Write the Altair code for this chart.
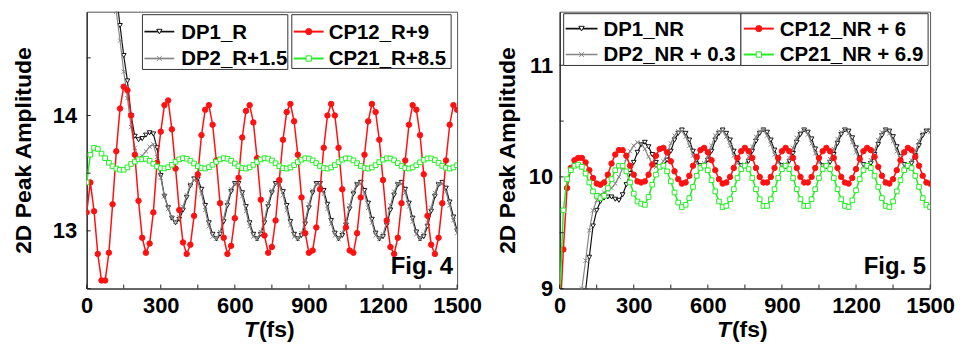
import altair as alt
import pandas as pd

T = list(range(0, 1501, 15))

# ---- Fig. 4 (left panel) ----
DP1_R = [18.0, 17.6, 17.2, 16.8, 16.4, 16.05, 15.7, 15.35, 15.05, 14.78, 14.52, 14.3, 14.0, 13.82, 13.79, 13.8, 13.83, 13.85, 13.84, 13.72,
         13.48, 13.3, 13.2, 13.11, 13.07, 13.10, 13.18, 13.29, 13.39, 13.45, 13.45, 13.36, 13.22, 13.07, 12.97, 12.93, 12.97, 13.08, 13.22, 13.34,
         13.41, 13.41, 13.33, 13.21, 13.07, 12.97, 12.93, 12.97, 13.07, 13.21, 13.33, 13.41, 13.41, 13.34, 13.22, 13.08, 12.97, 12.93, 12.96, 13.06,
         13.20, 13.33, 13.41, 13.41, 13.35, 13.23, 13.09, 12.98, 12.93, 12.96, 13.05, 13.19, 13.32, 13.40, 13.42, 13.35, 13.24, 13.10, 12.98, 12.93,
         12.95, 13.05, 13.18, 13.31, 13.40, 13.42, 13.36, 13.24, 13.11, 12.99, 12.93, 12.95, 13.04, 13.17, 13.30, 13.40, 13.42, 13.37, 13.25, 13.12,
         13.00]
DP2_R = [17.8, 17.4, 17.0, 16.6, 16.2, 15.85, 15.5, 15.15, 14.9, 14.65, 14.38, 14.15, 13.9, 13.72, 13.63, 13.65, 13.69, 13.73, 13.75, 13.64,
         13.46, 13.3, 13.19, 13.11, 13.08, 13.12, 13.21, 13.31, 13.40, 13.44, 13.42, 13.32, 13.18, 13.04, 12.95, 12.93, 12.99, 13.11, 13.25, 13.36,
         13.41, 13.40, 13.30, 13.17, 13.04, 12.95, 12.93, 12.99, 13.10, 13.24, 13.35, 13.41, 13.40, 13.31, 13.18, 13.05, 12.95, 12.93, 12.98, 13.09,
         13.23, 13.35, 13.41, 13.40, 13.32, 13.19, 13.06, 12.96, 12.93, 12.98, 13.08, 13.22, 13.34, 13.41, 13.41, 13.32, 13.20, 13.07, 12.96, 12.93,
         12.97, 13.08, 13.22, 13.34, 13.41, 13.41, 13.33, 13.21, 13.08, 12.97, 12.93, 12.97, 13.07, 13.20, 13.33, 13.41, 13.41, 13.34, 13.22, 13.09,
         12.98]
CP12_R = [13.16, 13.42, 13.17, 12.80, 12.57, 12.57, 12.81, 13.23, 13.69, 14.06, 14.25, 14.22, 14.0, 13.66, 13.26, 12.94, 12.81, 12.89, 13.16, 13.59,
          13.86, 14.09, 14.13, 13.88, 13.54, 13.18, 12.90, 12.80, 12.88, 13.13, 13.49, 13.83, 14.05, 14.09, 13.92, 13.61, 13.24, 12.94, 12.80, 12.87,
          13.11, 13.46, 13.81, 14.04, 14.09, 13.94, 13.63, 13.27, 12.96, 12.81, 12.86, 13.09, 13.44, 13.79, 14.03, 14.10, 13.95, 13.66, 13.29, 12.98,
          12.81, 12.83, 13.03, 13.36, 13.72, 14.0, 14.10, 14.0, 13.72, 13.36, 13.03, 12.83, 12.81, 12.98, 13.29, 13.66, 13.95, 14.10, 14.03, 13.79,
          13.44, 13.09, 12.86, 12.80, 12.94, 13.24, 13.61, 13.92, 14.09, 14.05, 13.83, 13.49, 13.13, 12.88, 12.80, 12.94, 13.24, 13.61, 13.92, 14.09,
          14.05]
CP21_R = [13.42, 13.66, 13.72, 13.71, 13.67, 13.63, 13.59, 13.56, 13.54, 13.53, 13.53, 13.55, 13.58, 13.60, 13.62, 13.62, 13.625, 13.607, 13.582, 13.558,
          13.543, 13.541, 13.552, 13.573, 13.599, 13.62, 13.63, 13.625, 13.608, 13.584, 13.56, 13.544, 13.541, 13.552, 13.573, 13.599, 13.62, 13.63, 13.625, 13.608,
          13.584, 13.56, 13.544, 13.54, 13.551, 13.572, 13.597, 13.619, 13.63, 13.626, 13.61, 13.586, 13.561, 13.544, 13.54, 13.55, 13.57, 13.596, 13.617, 13.629,
          13.627, 13.611, 13.587, 13.562, 13.545, 13.54, 13.55, 13.57, 13.596, 13.617, 13.629, 13.627, 13.611, 13.587, 13.562, 13.545, 13.54, 13.55, 13.57, 13.596,
          13.617, 13.629, 13.627, 13.611, 13.587, 13.562, 13.545, 13.54, 13.55, 13.569, 13.594, 13.616, 13.628, 13.628, 13.613, 13.589, 13.564, 13.547, 13.54, 13.55,
          13.569]

# ---- Fig. 5 (right panel) ----
DP1_NR = [7.6, 7.75, 7.9, 8.1, 8.3, 8.5, 8.75, 8.98, 9.28, 9.56, 9.70, 9.78, 9.81, 9.82, 9.82, 9.80, 9.79, 9.84, 9.93, 10.03,
          10.13, 10.22, 10.29, 10.31, 10.27, 10.2, 10.13, 10.09, 10.10, 10.15, 10.23, 10.33, 10.39, 10.42, 10.39, 10.33, 10.23, 10.15, 10.10, 10.10,
          10.15, 10.23, 10.33, 10.39, 10.42, 10.39, 10.33, 10.23, 10.15, 10.10, 10.10, 10.14, 10.23, 10.32, 10.39, 10.42, 10.40, 10.33, 10.24, 10.15,
          10.10, 10.09, 10.14, 10.21, 10.31, 10.38, 10.42, 10.40, 10.34, 10.25, 10.16, 10.10, 10.09, 10.13, 10.20, 10.30, 10.38, 10.42, 10.41, 10.35,
          10.26, 10.17, 10.11, 10.09, 10.12, 10.20, 10.29, 10.37, 10.42, 10.41, 10.36, 10.27, 10.18, 10.11, 10.09, 10.12, 10.19, 10.28, 10.37, 10.41,
          10.41]
DP2_NR = [7.8, 7.95, 8.15, 8.35, 8.55, 8.78, 9.0, 9.25, 9.52, 9.70, 9.79, 9.84, 9.86, 9.88, 9.90, 9.94, 10.0, 10.08, 10.16, 10.23,
          10.28, 10.31, 10.30, 10.25, 10.18, 10.12, 10.09, 10.10, 10.14, 10.21, 10.30, 10.37, 10.41, 10.41, 10.36, 10.28, 10.19, 10.12, 10.09, 10.12,
          10.19, 10.28, 10.37, 10.41, 10.41, 10.36, 10.28, 10.19, 10.12, 10.09, 10.11, 10.18, 10.27, 10.36, 10.41, 10.42, 10.37, 10.29, 10.20, 10.13,
          10.09, 10.11, 10.17, 10.26, 10.35, 10.40, 10.42, 10.38, 10.30, 10.21, 10.13, 10.09, 10.10, 10.16, 10.25, 10.34, 10.40, 10.42, 10.39, 10.31,
          10.22, 10.14, 10.10, 10.10, 10.15, 10.24, 10.33, 10.40, 10.42, 10.39, 10.32, 10.23, 10.15, 10.10, 10.10, 10.15, 10.23, 10.32, 10.39, 10.42,
          10.40]
CP12_NR = [8.7, 9.35, 9.9, 10.08, 10.15, 10.17, 10.17, 10.13, 10.06, 9.99, 9.94, 9.93, 9.95, 10.02, 10.12, 10.20, 10.24, 10.24, 10.19, 10.10,
           10.02, 9.96, 9.95, 9.96, 10.02, 10.11, 10.19, 10.25, 10.26, 10.22, 10.14, 10.05, 9.98, 9.94, 9.95, 10.01, 10.10, 10.18, 10.24, 10.26,
           10.22, 10.15, 10.06, 9.98, 9.94, 9.95, 10.00, 10.08, 10.17, 10.23, 10.26, 10.23, 10.17, 10.08, 10.00, 9.95, 9.95, 10.00, 10.08, 10.17,
           10.23, 10.26, 10.23, 10.17, 10.08, 10.00, 9.95, 9.95, 10.00, 10.08, 10.17, 10.23, 10.26, 10.23, 10.17, 10.08, 10.00, 9.95, 9.94, 9.99,
           10.07, 10.16, 10.23, 10.26, 10.24, 10.18, 10.09, 10.01, 9.95, 9.94, 9.98, 10.06, 10.15, 10.22, 10.26, 10.24, 10.18, 10.10, 10.01, 9.95,
           9.94]
CP21_NR = [8.9, 9.7, 9.98, 10.06, 10.10, 10.11, 10.09, 10.03, 9.95, 9.87, 9.83, 9.81, 9.83, 9.90, 9.98, 10.06, 10.10, 10.10, 10.05, 9.95,
           9.85, 9.78, 9.76, 9.75, 9.82, 9.93, 10.02, 10.09, 10.10, 10.05, 9.96, 9.86, 9.77, 9.73, 9.75, 9.81, 9.91, 10.01, 10.08, 10.10,
           10.06, 9.97, 9.87, 9.78, 9.73, 9.74, 9.80, 9.89, 9.99, 10.07, 10.10, 10.07, 9.99, 9.89, 9.80, 9.74, 9.74, 9.80, 9.89, 9.99,
           10.07, 10.10, 10.07, 9.99, 9.89, 9.80, 9.74, 9.74, 9.80, 9.89, 9.99, 10.07, 10.10, 10.07, 9.99, 9.89, 9.80, 9.74, 9.73, 9.79,
           9.88, 9.98, 10.06, 10.10, 10.08, 10.01, 9.91, 9.81, 9.74, 9.73, 9.78, 9.87, 9.97, 10.06, 10.10, 10.08, 10.01, 9.91, 9.81, 9.75,
           9.73]

X_TICKS = [0, 300, 600, 900, 1200, 1500]
X_MINOR = [150, 450, 750, 1050, 1350]

FONT = "Liberation Sans"
W, H = 372, 278
RED = "#ff1111"
GREEN = "#22ee22"
GRAY = "#858585"
BLACK = "#111111"
X_SHAPE = "M-1,-1L1,1M-1,1L1,-1"

for s in [DP1_R, DP2_R, CP12_R, CP21_R, DP1_NR, DP2_NR, CP12_NR, CP21_NR]:
    assert len(s) == len(T), len(s)

ONE = pd.DataFrame({"a": [1]})


def panel(series, ydom, yticks, yminor, ylab_pad, ytitle_pad, legend, fig_label):
    xs = alt.Scale(domain=[0, 1500], nice=False, zero=False)
    ys = alt.Scale(domain=ydom, nice=False, zero=False)
    xax = alt.Axis(values=X_TICKS, title=None, ticks=False, grid=False, labelFont=FONT,
                   labelFontSize=22, labelFontWeight="bold", labelColor="black", labelPadding=7,
                   labelFlush=False, domainColor="#222", domainWidth=1.2, format="d")
    yax = alt.Axis(values=yticks, title="2D Peak Amplitude", ticks=False, grid=False, labelFont=FONT,
                   labelFontSize=22, labelFontWeight="bold", labelColor="black", labelPadding=ylab_pad,
                   titleFont=FONT, titleFontSize=23, titleFontWeight="bold", titleColor="black",
                   titlePadding=ytitle_pad, domainColor="#222", domainWidth=1.2, format="d")
    X = alt.X("t:Q", scale=xs, axis=xax)
    Y = alt.Y("v:Q", scale=ys, axis=yax)

    layers = []
    for name, vals, color, shape, fill, size, sw in series:
        df = pd.DataFrame({"t": T, "v": vals})
        layers.append(alt.Chart(df).mark_line(color=color, strokeWidth=sw, clip=True).encode(x=X, y=Y))
        layers.append(alt.Chart(df).mark_point(shape=shape, filled=(fill is not None), fill=fill if fill else "white",
                                               stroke=color, strokeWidth=1, size=size, opacity=1,
                                               clip=True).encode(x=X, y=Y))

    # inward ticks
    xt = pd.DataFrame({"t": X_TICKS + X_MINOR})
    layers.append(alt.Chart(xt).mark_rule(color="#222", strokeWidth=1).encode(
        x=X, y=alt.value(H), y2=alt.value(H - 4)))
    yt = pd.DataFrame({"v": yticks + yminor})
    layers.append(alt.Chart(yt).mark_rule(color="#222", strokeWidth=1).encode(
        y=Y, x=alt.value(0), x2=alt.value(4)))

    # legend boxes
    for (bx0, bx1, by0, by1, entries) in legend:
        layers.append(alt.Chart(ONE).mark_rect(fill="white", stroke="#333", strokeWidth=1).encode(
            x=alt.value(bx0), x2=alt.value(bx1), y=alt.value(by0), y2=alt.value(by1)))
        for (lx0, lx1, ly, tx, label, color, shape, fill, size, sw) in entries:
            layers.append(alt.Chart(ONE).mark_rule(color=color, strokeWidth=sw + 0.5).encode(
                x=alt.value(lx0), x2=alt.value(lx1), y=alt.value(ly)))
            layers.append(alt.Chart(ONE).mark_point(shape=shape, filled=(fill is not None),
                                                    fill=fill if fill else "white", stroke=color,
                                                    strokeWidth=1, size=size * 1.3, opacity=1).encode(
                x=alt.value((lx0 + lx1) / 2), y=alt.value(ly)))
            layers.append(alt.Chart(ONE).mark_text(text=label, font=FONT, fontSize=20.5, fontWeight="bold",
                                                   align="left", baseline="middle", color="black").encode(
                x=alt.value(tx), y=alt.value(ly + 1)))

    # figure label
    layers.append(alt.Chart(ONE).mark_text(text=fig_label, font=FONT, fontSize=24, fontWeight="bold",
                                           align="right", baseline="alphabetic", color="black").encode(
        x=alt.value(W - 4), y=alt.value(H - 15)))
    # x-axis title: italic T + (fs)
    layers.append(alt.Chart(ONE).mark_text(text="T", font=FONT, fontSize=23, fontWeight="bold",
                                           fontStyle="italic", align="right", baseline="alphabetic",
                                           color="black").encode(
        x=alt.value(W / 2 - 14), y=alt.value(H + 49)))
    layers.append(alt.Chart(ONE).mark_text(text="(fs)", font=FONT, fontSize=23, fontWeight="bold",
                                           align="left", baseline="alphabetic", color="black").encode(
        x=alt.value(W / 2 - 13), y=alt.value(H + 49)))

    return alt.layer(*layers).properties(width=W, height=H)


left_series = [
    ("DP1_R", DP1_R, BLACK, "triangle-down", "white", 22, 1.2),
    ("DP2_R+1.5", DP2_R, GRAY, X_SHAPE, None, 18, 1.2),
    ("CP12_R+9", CP12_R, RED, "circle", RED, 30, 1.5),
    ("CP21_R+8.5", CP21_R, GREEN, "square", "white", 22, 1.5),
]
right_series = [
    ("DP1_NR", DP1_NR, BLACK, "triangle-down", "white", 22, 1.2),
    ("DP2_NR + 0.3", DP2_NR, GRAY, X_SHAPE, None, 18, 1.2),
    ("CP12_NR + 6", CP12_NR, RED, "circle", RED, 30, 1.5),
    ("CP21_NR + 6.9", CP21_NR, GREEN, "square", "white", 22, 1.5),
]


def entries(series, lx0, lx1, tx, ys):
    out = []
    for (name, _, color, shape, fill, size, sw), ly in zip(series, ys):
        out.append((lx0, lx1, ly, tx, name, color, shape, fill, size, sw))
    return out


left_legend = [
    (56, 202, 3, 58, entries(left_series[:2], 58, 88, 95, [20, 47])),
    (206, 366, 3, 57, entries(left_series[2:], 208, 238, 243, [20, 47])),
]
right_legend = [
    (4, 182, 2, 54, entries(right_series[:2], 6, 38, 44, [17, 43])),
    (182, 370, 2, 54, entries(right_series[2:], 185, 215, 221, [17, 43])),
]

left = panel(left_series, [12.5, 14.9], [13, 14], [12.5, 13.5, 14.5], 10, 17, left_legend, "Fig. 4")
right = panel(right_series, [9, 11.48], [9, 10, 11], [9.5, 10.5], 7, 9, right_legend, "Fig. 5")

chart = alt.hconcat(left, right, spacing=103, bounds="flush").properties(
    padding={"left": 4, "top": 2, "right": 0, "bottom": 0}
).configure_view(stroke="#555", strokeWidth=1)

chart.save("out.html", embed_options={"renderer": "svg", "actions": False})
